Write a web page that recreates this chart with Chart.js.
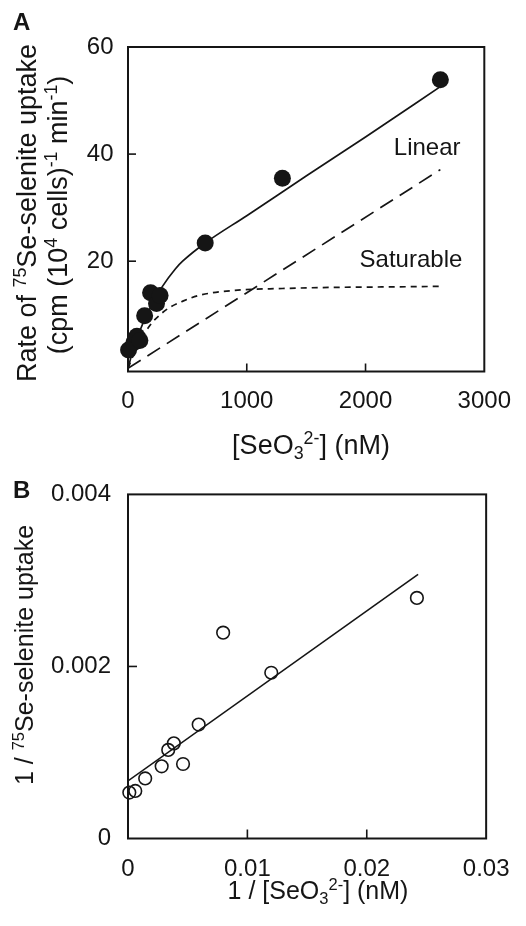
<!DOCTYPE html>
<html><head><meta charset="utf-8">
<script src="https://cdn.jsdelivr.net/npm/chart.js@4"></script>
<style>
html,body{margin:0;padding:0;background:#fff;}
#wrap{position:relative;width:526px;height:926px;overflow:hidden;}
canvas{position:absolute;left:0;}
</style></head><body>
<div id="wrap">
<canvas id="cA" width="526" height="463" style="top:0"></canvas>
<canvas id="cB" width="526" height="463" style="top:463px"></canvas>
</div>
<script>
// ---------- Panel A data ----------
const concA = [5, 50, 75, 100, 140, 190, 240, 270, 650, 1300, 2630];
const rateA = [3.4, 4.8, 6.0, 5.2, 9.8, 14.1, 12.1, 13.6, 23.4, 35.5, 53.9];
const fitX = [0, 50, 100, 150, 200, 290, 400, 460, 650, 1000, 1500, 2000, 2630];
const fitY = [0, 4.0, 7.0, 9.6, 11.8, 15.3, 18.6, 20.0, 23.4, 28.5, 35.9, 43.2, 52.6];
const satX = [0, 50, 100, 184, 280, 362, 458, 595, 925, 1300, 1692, 2200, 2630];
const satY = [0, 2.7, 4.9, 8.0, 10.2, 11.5, 12.5, 13.6, 14.6, 14.9, 15.1, 15.2, 15.3];
const linX = [0, 2630];
const linY = [0, 37.1];
const xTicksA = [0, 1000, 2000, 3000];
const xTickLabelsA = ['0', '1000', '2000', '3000'];
const yTicksA = [20, 40, 60];
const yTickLabelsA = ['20', '40', '60'];

// ---------- Panel B data ----------
const invConcB = [0.00011, 0.00061, 0.00144, 0.00282, 0.00337, 0.00384, 0.00461, 0.00592, 0.00797, 0.0120, 0.0242];
const invRateB = [0.000534, 0.000553, 0.000698, 0.000839, 0.00103, 0.001106, 0.000866, 0.001324, 0.002393, 0.001927, 0.002797];
const lineBX = [0, 0.0243];
const lineBY = [0.00067, 0.00307];
const xTicksB = [0, 0.01, 0.02, 0.03];
const xTickLabelsB = ['0', '0.01', '0.02', '0.03'];
const yTicksB = [0, 0.002, 0.004];
const yTickLabelsB = ['0', '0.002', '0.004'];

// ---------- Text ----------
const yTitleA1 = [['Rate of '], ['75', 'sup'], ['Se-selenite uptake']];
const yTitleA2 = [['(cpm (10'], ['4', 'sup'], [' cells)'], ['-1', 'sup'], [' min'], ['-1', 'sup'], [')']];
const xTitleA = [['[SeO'], ['3', 'sub'], ['2-', 'sup'], ['] (nM)']];
const yTitleB = [['1 / '], ['75', 'sup'], ['Se-selenite uptake']];
const xTitleB = [['1 / [SeO'], ['3', 'sub'], ['2-', 'sup'], ['] (nM)']];

const INK = '#151515';
const FAM = '"Liberation Sans", Arial, Helvetica, sans-serif';
const toXY = (xs, ys) => xs.map((x, i) => ({x: x, y: ys[i]}));

function drawRich(ctx, runs, x, y, size, rot, align) {
  ctx.save();
  ctx.translate(x, y);
  if (rot) ctx.rotate(rot);
  const sizes = runs.map(r => r[1] ? size * 0.66 : size);
  let total = 0;
  const widths = runs.map((r, i) => { ctx.font = sizes[i] + 'px ' + FAM; const w = ctx.measureText(r[0]).width; total += w; return w; });
  let cx = align === 'left' ? 0 : (align === 'right' ? -total : -total / 2);
  ctx.textAlign = 'left';
  ctx.textBaseline = 'alphabetic';
  ctx.fillStyle = INK;
  const base = size * 0.358;
  runs.forEach((r, i) => {
    ctx.font = sizes[i] + 'px ' + FAM;
    let dy = base;
    if (r[1] === 'sup') dy -= size * 0.36;
    if (r[1] === 'sub') dy += size * 0.2;
    ctx.fillText(r[0], cx, dy);
    cx += widths[i];
  });
  ctx.restore();
}

const framePlugin = {
  id: 'frame',
  afterDraw(chart, args, opts) {
    const {ctx, chartArea: a, scales} = chart;
    ctx.save();
    ctx.strokeStyle = INK;
    ctx.lineWidth = 2;
    ctx.strokeRect(a.left, a.top, a.right - a.left, a.bottom - a.top);
    ctx.lineWidth = 1.6;
    const L = opts.tickLen || 8;
    scales.x.ticks.forEach(t => {
      const px = scales.x.getPixelForValue(t.value);
      if (px > a.left + 2 && px < a.right - 2) {
        ctx.beginPath(); ctx.moveTo(px, a.bottom); ctx.lineTo(px, a.bottom - L); ctx.stroke();
      }
    });
    scales.y.ticks.forEach(t => {
      const py = scales.y.getPixelForValue(t.value);
      if (py > a.top + 2 && py < a.bottom - 2) {
        ctx.beginPath(); ctx.moveTo(a.left, py); ctx.lineTo(a.left + L, py); ctx.stroke();
      }
    });
    ctx.restore();
  }
};

const textPlugin = {
  id: 'texts',
  afterDraw(chart, args, o) {
    const ctx = chart.ctx;
    const sx = chart.scales.x, sy = chart.scales.y;
    ctx.save();
    ctx.font = 'bold ' + o.letterSize + 'px ' + FAM;
    ctx.fillStyle = INK;
    ctx.textBaseline = 'alphabetic';
    ctx.textAlign = 'left';
    ctx.fillText(o.letter, o.letterX, o.letterY + o.letterSize * 0.358);
    ctx.restore();
    o.items.forEach(it => {
      drawRich(ctx, it.runs, it.x, it.y, it.size, it.rot || 0, it.align);
    });
    (o.notes || []).forEach(n => {
      drawRich(ctx, [[n.text]], sx.getPixelForValue(n.x), sy.getPixelForValue(n.y), n.size, 0, 'right');
    });
  }
};

function axisCfg(min, max, ticks, labels, pad, fitFn) {
  return {
    type: 'linear', min: min, max: max,
    grid: {display: false, drawTicks: false, tickLength: 0}, border: {display: false},
    afterBuildTicks: s => { s.ticks = ticks.map(v => ({value: v})); },
    afterFit: fitFn,
    ticks: {
      autoSkip: false, maxRotation: 0, minRotation: 0, padding: pad, color: INK,
      font: {family: FAM, size: 24},
      callback: v => { const i = ticks.indexOf(v); return i >= 0 ? labels[i] : ''; }
    }
  };
}

Chart.defaults.font.family = FAM;

new Chart(document.getElementById('cA'), {
  type: 'scatter',
  data: {datasets: [
    {data: toXY(concA, rateA), showLine: false, pointRadius: 8.5, pointBackgroundColor: INK, pointBorderColor: INK, pointBorderWidth: 0, clip: false},
    {data: toXY(fitX, fitY), showLine: true, pointRadius: 0, borderColor: INK, borderWidth: 1.7, cubicInterpolationMode: 'monotone'},
    {data: toXY(satX, satY), showLine: true, pointRadius: 0, borderColor: INK, borderWidth: 1.7, borderDash: [6, 5], cubicInterpolationMode: 'monotone'},
    {data: toXY(linX, linY), showLine: true, pointRadius: 0, borderColor: INK, borderWidth: 1.7, borderDash: [15, 8]}
  ]},
  options: {
    responsive: false, animation: false, events: [],
    layout: {padding: {left: 0, top: 47, right: 34, bottom: 0}},
    plugins: {
      legend: {display: false}, tooltip: {enabled: false},
      frame: {tickLen: 8},
      texts: {
        letter: 'A', letterX: 13, letterY: 21, letterSize: 24,
        items: [
          {runs: yTitleA1, x: 26, y: 213, size: 27, rot: -Math.PI / 2},
          {runs: yTitleA2, x: 57, y: 215, size: 27, rot: -Math.PI / 2},
          {runs: xTitleA, x: 311, y: 444, size: 27}
        ],
        notes: [
          {text: 'Linear', x: 2800, y: 41.5, size: 24},
          {text: 'Saturable', x: 2815, y: 20.5, size: 24}
        ]
      }
    },
    scales: {
      x: axisCfg(0, 3000, xTicksA, xTickLabelsA, 15, s => { s.height = 91.5; }),
      y: axisCfg(-0.6, 60, yTicksA, yTickLabelsA, 14.5, s => { s.width = 128; })
    }
  },
  plugins: [framePlugin, textPlugin]
});

new Chart(document.getElementById('cB'), {
  type: 'scatter',
  data: {datasets: [
    {data: toXY(invConcB, invRateB), showLine: false, pointRadius: 6.3, pointBackgroundColor: 'rgba(0,0,0,0)', pointBorderColor: INK, pointBorderWidth: 1.6, clip: false},
    {data: toXY(lineBX, lineBY), showLine: true, pointRadius: 0, borderColor: INK, borderWidth: 1.6}
  ]},
  options: {
    responsive: false, animation: false, events: [],
    layout: {padding: {left: 0, top: 26, right: 36.5, bottom: 0}},
    plugins: {
      legend: {display: false}, tooltip: {enabled: false},
      frame: {tickLen: 9},
      texts: {
        letter: 'B', letterX: 13, letterY: 26.5, letterSize: 24,
        items: [
          {runs: yTitleB, x: 24, y: 192, size: 25, rot: -Math.PI / 2},
          {runs: xTitleB, x: 318, y: 427, size: 25}
        ]
      }
    },
    scales: {
      x: axisCfg(0, 0.03, xTicksB, xTickLabelsB, 16.5, s => { s.height = 87.5; }),
      y: axisCfg(0, 0.004, yTicksB, yTickLabelsB, 17, s => { s.width = 128; })
    }
  },
  plugins: [framePlugin, textPlugin]
});
</script>
</body></html>
